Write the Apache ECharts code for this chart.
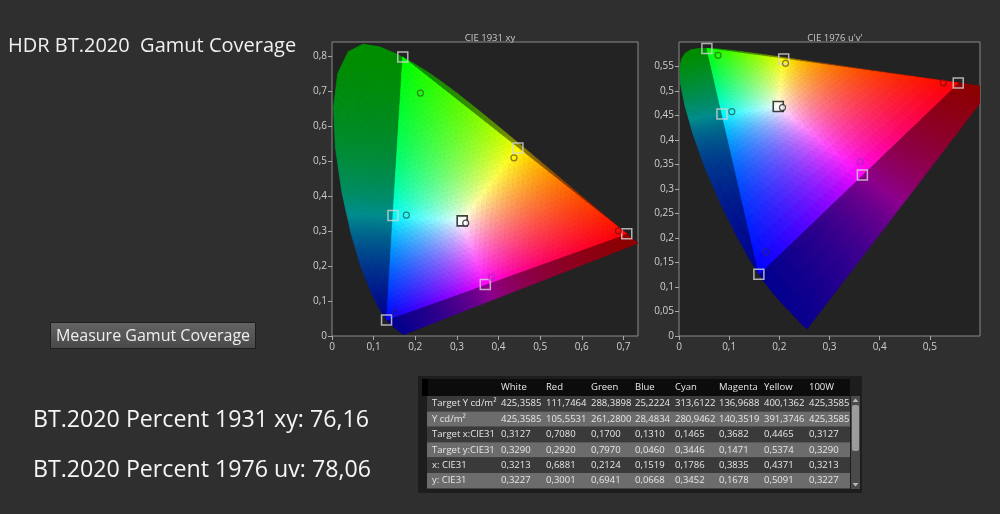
<!DOCTYPE html>
<html><head><meta charset="utf-8">
<script src="https://cdn.jsdelivr.net/npm/echarts@6/dist/echarts.min.js"></script>
<style>html,body{margin:0;padding:0;background:#2f2f2f;}#c{width:1000px;height:514px;}</style>
</head><body><div id="c"></div>
<script>
// ---------------- data ----------------
const colorNames = ['White','Red','Green','Blue','Cyan','Magenta','Yellow','100W'];
const rowLabels = ['Target Y cd/m²','Y cd/m²','Target x:CIE31','Target y:CIE31','x: CIE31','y: CIE31'];
const targetYcd   = [425.3585,111.7464,288.3898,25.2224,313.6122,136.9688,400.1362,425.3585];
const measuredYcd = [425.3585,105.5531,261.2800,28.4834,280.9462,140.3519,391.3746,425.3585];
const targetX   = [0.3127,0.7080,0.1700,0.1310,0.1465,0.3682,0.4465,0.3127];
const targetY   = [0.3290,0.2920,0.7970,0.0460,0.3446,0.1471,0.5374,0.3290];
const measuredX = [0.3213,0.6881,0.2124,0.1519,0.1786,0.3835,0.4371,0.3213];
const measuredY = [0.3227,0.3001,0.6941,0.0668,0.3452,0.1678,0.5091,0.3227];
const percent1931 = 76.16;
const percent1976 = 78.06;
// CIE 1931 2° spectral locus
const locusNm = [380,385,390,395,400,405,410,415,420,425,430,435,440,445,450,455,460,465,470,475,480,485,490,495,500,505,510,515,520,525,530,535,540,545,550,555,560,565,570,575,580,585,590,595,600,605,610,615,620,625,630,635,640,650,660,680,700];
const locusX = [0.1741,0.1740,0.1738,0.1736,0.1733,0.1730,0.1726,0.1721,0.1714,0.1703,0.1689,0.1669,0.1644,0.1611,0.1566,0.1510,0.1440,0.1355,0.1241,0.1096,0.0913,0.0687,0.0454,0.0235,0.0082,0.0039,0.0139,0.0389,0.0743,0.1142,0.1547,0.1929,0.2296,0.2658,0.3016,0.3373,0.3731,0.4087,0.4441,0.4788,0.5125,0.5448,0.5752,0.6029,0.6270,0.6482,0.6658,0.6801,0.6915,0.7006,0.7079,0.7140,0.7190,0.7260,0.7300,0.7334,0.7347];
const locusY = [0.0050,0.0050,0.0049,0.0049,0.0048,0.0048,0.0048,0.0048,0.0051,0.0058,0.0069,0.0086,0.0109,0.0138,0.0177,0.0227,0.0297,0.0399,0.0578,0.0868,0.1327,0.2007,0.2950,0.4127,0.5384,0.6548,0.7502,0.8120,0.8338,0.8262,0.8059,0.7816,0.7543,0.7243,0.6923,0.6589,0.6245,0.5896,0.5547,0.5202,0.4866,0.4544,0.4242,0.3965,0.3725,0.3514,0.3340,0.3197,0.3083,0.2993,0.2920,0.2859,0.2809,0.2740,0.2700,0.2666,0.2653];
const xTicks1931 = [0,0.1,0.2,0.3,0.4,0.5,0.6,0.7];
const yTicks1931 = [0,0.1,0.2,0.3,0.4,0.5,0.6,0.7,0.8];
const uTicks1976 = [0,0.1,0.2,0.3,0.4,0.5];
const vTicks1976 = [0,0.05,0.1,0.15,0.2,0.25,0.3,0.35,0.4,0.45,0.5,0.55];

// ---------------- styles ----------------
const measuredStroke = ['#222222','#7a1010','#2d6b12','#20208a','#1f5f5f','#a028c0','#6b5a10'];
const GAMMA_IN = 0.9, GAMMA_OUT = 1.0, DIM = 0.56;

// ---------------- helpers ----------------
const toUV = p => { const d = -2*p[0] + 12*p[1] + 3; return [4*p[0]/d, 9*p[1]/d]; };
const idXY = p => p;
function xyToRGB(x, y, dim, gamma){
  const X = x/y, Z = (1-x-y)/y;
  let r = 1.7166512*X - 0.3556708 - 0.2533663*Z;
  let g = -0.6666844*X + 1.6164812 + 0.0157685*Z;
  let b = 0.0176399*X - 0.0427706 + 0.9421031*Z;
  r = Math.max(0,r); g = Math.max(0,g); b = Math.max(0,b);
  const m = Math.max(r,g,b) || 1;
  const f = v => Math.round(255*dim*Math.pow(v/m, gamma));
  return 'rgb(' + f(r) + ',' + f(g) + ',' + f(b) + ')';
}
const W = [targetX[0], targetY[0]];
const PR = [targetX[1], targetY[1]], PG = [targetX[2], targetY[2]], PB = [targetX[3], targetY[3]];
function inTri(p){
  const d = (PG[1]-PB[1])*(PR[0]-PB[0]) + (PB[0]-PG[0])*(PR[1]-PB[1]);
  const a = ((PG[1]-PB[1])*(p[0]-PB[0]) + (PB[0]-PG[0])*(p[1]-PB[1]))/d;
  const b = ((PB[1]-PR[1])*(p[0]-PB[0]) + (PR[0]-PB[0])*(p[1]-PB[1]))/d;
  return a >= -1e-6 && b >= -1e-6 && (1-a-b) >= -1e-6;
}
const lerp = (a,b,t) => [a[0]+(b[0]-a[0])*t, a[1]+(b[1]-a[1])*t];
function closestOnSeg(p, a, b){
  const dx = b[0]-a[0], dy = b[1]-a[1];
  let t = ((p[0]-a[0])*dx + (p[1]-a[1])*dy)/(dx*dx+dy*dy);
  t = Math.max(0, Math.min(1, t));
  return [a[0]+dx*t, a[1]+dy*t];
}
function nearestOnTri(p){
  if (inTri(p)) return p;
  let best = null, bd = Infinity;
  [[PR,PG],[PG,PB],[PB,PR]].forEach(([a,b]) => {
    const q = closestOnSeg(p,a,b); const d = (q[0]-p[0])**2 + (q[1]-p[1])**2;
    if (d < bd){ bd = d; best = q; }
  });
  return best;
}

// outer (dimmed) fan over the full locus
const rawB = locusX.map((x,i) => [x, locusY[i]]);
rawB.push(rawB[0]);
const boundary = [];
const MAXSEG = 0.006;
for (let i = 0; i < rawB.length-1; i++){
  const a = rawB[i], b = rawB[i+1];
  const n = Math.max(1, Math.ceil(Math.hypot(b[0]-a[0], b[1]-a[1]) / MAXSEG));
  for (let s = 0; s < n; s++) boundary.push(lerp(a, b, s/n));
}
const outerMesh = [];
const K = 16;
for (let i = 0; i < boundary.length; i++){
  const P = boundary[i], Q = boundary[(i+1) % boundary.length];
  for (let k = 0; k < K; k++){
    const t0 = k/K, t1 = (k+1)/K;
    const pts = [lerp(W,P,t0), lerp(W,P,t1), lerp(W,Q,t1), lerp(W,Q,t0)];
    if (pts.every(inTri)) continue;
    const c = [(pts[0][0]+pts[1][0]+pts[2][0]+pts[3][0])/4, (pts[0][1]+pts[1][1]+pts[2][1]+pts[3][1])/4];
    const q = nearestOnTri(c);
    outerMesh.push({pts, col: xyToRGB(q[0], q[1], DIM, GAMMA_OUT)});
  }
}
// bright BT.2020 triangle
const innerMesh = [];
const N = 48;
const TP = (i,j) => [PB[0] + (PR[0]-PB[0])*i/N + (PG[0]-PB[0])*j/N, PB[1] + (PR[1]-PB[1])*i/N + (PG[1]-PB[1])*j/N];
for (let i = 0; i < N; i++){
  for (let j = 0; i + j < N; j++){
    const tris = [[TP(i,j), TP(i+1,j), TP(i,j+1)]];
    if (i + j + 2 <= N) tris.push([TP(i+1,j), TP(i+1,j+1), TP(i,j+1)]);
    tris.forEach(pts => {
      const c = [(pts[0][0]+pts[1][0]+pts[2][0])/3, (pts[0][1]+pts[1][1]+pts[2][1])/3];
      innerMesh.push({pts, col: xyToRGB(c[0], c[1], 1, GAMMA_IN)});
    });
  }
}
function meshSeries(mesh, tf, gi){
  return {
    type: 'custom', xAxisIndex: gi, yAxisIndex: gi, coordinateSystem: 'cartesian2d',
    clip: true, silent: true, animation: false, data: [[0,0]],
    renderItem: function(params, api){
      return {type: 'group', children: mesh.map(c => ({
        type: 'polygon', shape: {points: c.pts.map(p => api.coord(tf(p)))},
        style: {fill: c.col, stroke: c.col, lineWidth: 0.7}
      }))};
    }
  };
}
function targetSeries(tf, gi){
  const data = [];
  for (let i = 0; i < 7; i++){
    const p = tf([targetX[i], targetY[i]]);
    data.push({value: p, itemStyle: i === 0 ? {color: 'rgba(255,255,255,0.55)', borderColor: '#111', borderWidth: 1.6}
                                          : {color: 'rgba(0,0,0,0)', borderColor: '#d6d6d6', borderWidth: 1.5}});
  }
  return {type: 'scatter', xAxisIndex: gi, yAxisIndex: gi, symbol: 'rect', symbolSize: 10, silent: true, animation: false, data};
}
function measuredSeries(tf, gi){
  const data = [];
  for (let i = 0; i < 7; i++){
    const p = tf([measuredX[i], measuredY[i]]);
    data.push({value: p, itemStyle: {color: i === 0 ? '#ffffff' : 'rgba(0,0,0,0)', borderColor: measuredStroke[i], borderWidth: 1.2}});
  }
  return {type: 'scatter', xAxisIndex: gi, yAxisIndex: gi, symbol: 'circle', symbolSize: 6, silent: true, animation: false, data};
}
const fmt = v => v === 0 ? '0' : String(+v.toFixed(2)).replace('.', ',');
const fmt4 = v => v.toFixed(4).replace('.', ',');
function axis(gi, min, max, ticks, isX){
  return {
    gridIndex: gi, type: 'value', min, max,
    axisLine: {show: false},
    axisTick: {show: true, length: 4, lineStyle: {color: '#a8a8a8'}, customValues: ticks},
    axisLabel: {customValues: ticks, formatter: fmt, color: '#cfcfcf', fontSize: 10, margin: isX ? 6 : 5},
    splitLine: {show: false}
  };
}

// ---------------- graphic (text, button, table) ----------------
const FONT = '"Open Sans", "Noto Sans", sans-serif';
const graphics = [];
graphics.push({type: 'text', left: 8, top: 36, style: {text: 'HDR BT.2020  Gamut Coverage', fill: '#f0f0f0', font: '20px ' + FONT}});
graphics.push({type: 'rect', shape: {x: 50.5, y: 322.5, width: 205, height: 26}, style: {fill: {type: 'linear', x: 0, y: 0, x2: 0, y2: 1, colorStops: [{offset: 0, color: '#646464'}, {offset: 1, color: '#484848'}]}, stroke: '#1e1e1e', lineWidth: 1}});
graphics.push({type: 'text', x: 153, y: 336, style: {text: 'Measure Gamut Coverage', fill: '#eeeeee', font: '16px ' + FONT, textAlign: 'center', textVerticalAlign: 'middle'}});
graphics.push({type: 'text', x: 33, y: 420, style: {text: 'BT.2020 Percent 1931 xy: ' + percent1931.toFixed(2).replace('.', ','), fill: '#f5f5f5', font: '23.2px ' + FONT, textVerticalAlign: 'middle'}});
graphics.push({type: 'text', x: 33, y: 470, style: {text: 'BT.2020 Percent 1976 uv: ' + percent1976.toFixed(2).replace('.', ','), fill: '#f5f5f5', font: '23.2px ' + FONT, textVerticalAlign: 'middle'}});
// table
const tblX = 418, tblY = 376, hdrH = 17, rowH = 15.4;
const TFONT = '9.5px ' + FONT;
graphics.push({type: 'rect', shape: {x: tblX, y: tblY, width: 444, height: 117}, style: {fill: '#1d1d1d'}});
graphics.push({type: 'rect', shape: {x: 422, y: 379, width: 428, height: hdrH}, style: {fill: '#0c0c0c'}});
graphics.push({type: 'rect', shape: {x: 422, y: 379, width: 6, height: hdrH}, style: {fill: '#000'}});
const colX = [501, 546, 591, 635, 675, 719, 764, 809];
colorNames.forEach((n, i) => graphics.push({type: 'text', x: colX[i], y: 379 + hdrH/2, style: {text: n, fill: '#e8e8e8', font: TFONT, textVerticalAlign: 'middle'}}));
const rowsData = [targetYcd, measuredYcd, targetX, targetY, measuredX, measuredY];
rowsData.forEach((arr, r) => {
  const y0 = 379 + hdrH + r*rowH;
  graphics.push({type: 'rect', shape: {x: 427, y: y0, width: 423, height: rowH}, style: {fill: r % 2 === 0 ? '#3a3a3a' : '#6c6c6c'}});
  graphics.push({type: 'text', x: 432, y: y0 + rowH/2, style: {text: rowLabels[r], fill: '#e6e6e6', font: TFONT, textVerticalAlign: 'middle'}});
  arr.forEach((v, i) => graphics.push({type: 'text', x: colX[i], y: y0 + rowH/2, style: {text: fmt4(v), fill: '#e6e6e6', font: TFONT, textVerticalAlign: 'middle'}}));
});
// scrollbar
graphics.push({type: 'rect', shape: {x: 851, y: 396, width: 9, height: 93}, style: {fill: '#4a4a4a'}});
graphics.push({type: 'rect', shape: {x: 852, y: 405, width: 7, height: 46, r: 2}, style: {fill: '#9c9c9c'}});
graphics.push({type: 'polygon', shape: {points: [[852.5, 402], [858.5, 402], [855.5, 398.5]]}, style: {fill: '#b8b8b8'}});
graphics.push({type: 'polygon', shape: {points: [[852.5, 483], [858.5, 483], [855.5, 486.5]]}, style: {fill: '#b8b8b8'}});

// ---------------- chart ----------------
const chart = echarts.init(document.getElementById('c'), null, {renderer: 'canvas'});
chart.setOption({
  backgroundColor: '#2f2f2f',
  animation: false,
  textStyle: {fontFamily: FONT},
  title: [
    {text: 'CIE 1931 xy', left: 485, top: 28, textAlign: 'center', textStyle: {color: '#c8c8c8', fontSize: 9.5, fontWeight: 'normal'}},
    {text: "CIE 1976 u'v'", left: 830, top: 28, textAlign: 'center', textStyle: {color: '#c8c8c8', fontSize: 9.5, fontWeight: 'normal'}}
  ],
  grid: [
    {left: 332, top: 42, width: 306, height: 294, show: true, backgroundColor: '#232323', borderColor: '#8a8a8a', borderWidth: 1},
    {left: 679, top: 42, width: 301, height: 294, show: true, backgroundColor: '#232323', borderColor: '#8a8a8a', borderWidth: 1}
  ],
  xAxis: [axis(0, 0, 0.735, xTicks1931, true), axis(1, 0, 0.6, uTicks1976, true)],
  yAxis: [axis(0, 0, 0.84, yTicks1931, false), axis(1, 0, 0.6, vTicks1976, false)],
  series: [
    meshSeries(outerMesh, idXY, 0), meshSeries(innerMesh, idXY, 0),
    targetSeries(idXY, 0), measuredSeries(idXY, 0),
    meshSeries(outerMesh, toUV, 1), meshSeries(innerMesh, toUV, 1),
    targetSeries(toUV, 1), measuredSeries(toUV, 1)
  ],
  graphic: graphics
});
</script></body></html>
